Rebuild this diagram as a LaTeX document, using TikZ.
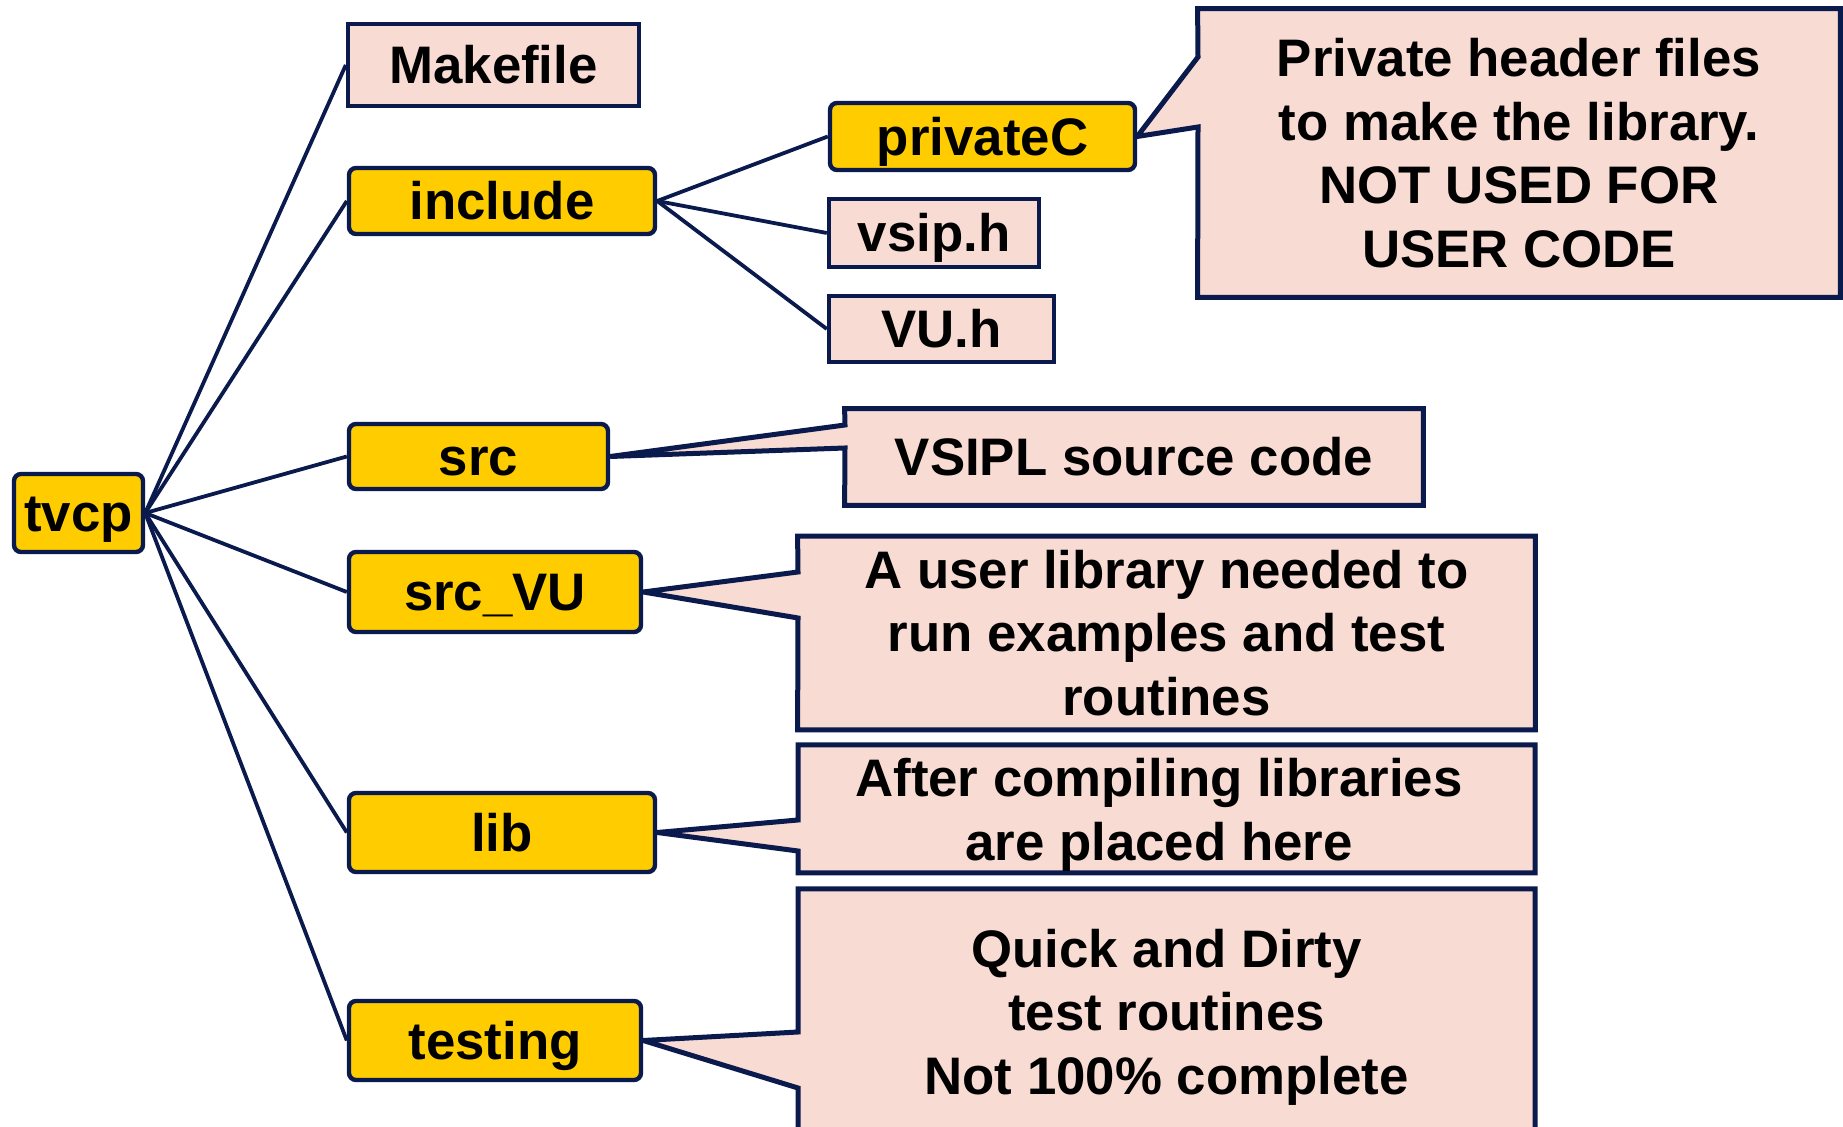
\documentclass[tikz,border=0pt]{standalone}
\usepackage{fontspec}
\setmainfont{Liberation Sans}
\usetikzlibrary{backgrounds}
\definecolor{navy}{RGB}{10,26,77}
\definecolor{gold}{RGB}{255,204,0}
\definecolor{pinkfill}{RGB}{248,219,210}
\begin{document}
\begin{tikzpicture}[x=0.5pt,y=-0.5pt,
  every node/.style={font=\fontsize{26.4pt}{31.75pt}\selectfont\bfseries, inner sep=0pt},
  boxlabel/.style={text height=18.8pt, text depth=0pt},
  dirbox/.style={boxlabel, draw=navy, line width=2.2pt, fill=gold, rounded corners=3.5pt},
  filebox/.style={boxlabel, draw=navy, line width=2.2pt, fill=pinkfill},
  notebox/.style={align=center},
  link/.style={draw=navy, line width=1.9pt},
  noteline/.style={draw=navy, line width=2.5pt, fill=pinkfill, line join=miter}]
\useasboundingbox (0,0) rectangle (1843,1127);

% tree nodes
\node[dirbox, minimum width=64.5pt, minimum height=39pt] (tvcp) at (78.5,513) {tvcp};
\node[filebox, minimum width=145.5pt, minimum height=41pt] (make) at (493.5,65) {Makefile};
\node[dirbox, minimum width=153pt, minimum height=33pt] (inc) at (502,201) {include};
\node[dirbox, minimum width=152.5pt, minimum height=33.5pt] (priv) at (982.5,136.5) {privateC};
\node[filebox, minimum width=105pt, minimum height=34pt] (vsip) at (934,233) {vsip.h};
\node[filebox, minimum width=112.5pt, minimum height=33pt] (vu) at (941.5,329) {VU.h};
\node[dirbox, minimum width=129.5pt, minimum height=32.5pt] (src) at (478.5,456.5) {src};
\node[dirbox, minimum width=146pt, minimum height=40pt] (srcvu) at (495,592) {src\_VU};
\node[dirbox, minimum width=153pt, minimum height=39.5pt] (lib) at (502,832.5) {lib};
\node[dirbox, minimum width=146pt, minimum height=39.5pt] (test) at (495,1040.5) {testing};

% callout texts
\node[notebox, minimum width=321pt, minimum height=144pt] (cPriv) at (1519,153)
  {Private header files\\to make the library.\\NOT USED FOR\\USER CODE};
\node[notebox, minimum width=289pt, minimum height=48pt] (cSrc) at (1134,457)
  {VSIPL source code};
\node[notebox, minimum width=368.5pt, minimum height=96.5pt] (cVU) at (1166.5,633)
  {A user library needed to\\run examples and test\\routines};
\node[notebox] (cLib) at (1159,815)
  {After compiling libraries\\are placed here};
\node[notebox] (cTest) at (1166.5,1017)
  {Quick and Dirty\\test routines\\Not 100\% complete};

% base points of the callout pointers and corners of open callouts
\coordinate (pU) at (1198,57);   \coordinate (pL) at (1198,127);
\coordinate (sU) at (845,425);   \coordinate (sL) at (845,448);
\coordinate (vU) at (798,572);   \coordinate (vL) at (798,618);
\coordinate (lU) at (798,820);   \coordinate (lL) at (798,851);
\coordinate (lTL) at (798,745);  \coordinate (lTR) at (1535,745);
\coordinate (lBL) at (798,873);  \coordinate (lBR) at (1535,873);
\coordinate (tU) at (798,1032);  \coordinate (tL) at (798,1088);
\coordinate (tTL) at (798,889);  \coordinate (tTR) at (1535,889);
\coordinate (tBL) at (798,1127); \coordinate (tBR) at (1535,1127);

\begin{scope}[on background layer]
\path[noteline] (cPriv.north west) -- (cPriv.north east) -- (cPriv.south east)
  -- (cPriv.south west) -- (pL) -- (priv.east) -- (pU) -- cycle;
\path[noteline] (cSrc.north west) -- (cSrc.north east) -- (cSrc.south east)
  -- (cSrc.south west) -- (sL) -- (src.east) -- (sU) -- cycle;
\path[noteline] (cVU.north west) -- (cVU.north east) -- (cVU.south east)
  -- (cVU.south west) -- (vL) -- (srcvu.east) -- (vU) -- cycle;
\path[noteline] (lTL) -- (lTR) -- (lBR) -- (lBL) -- (lL) -- (lib.east) -- (lU) -- cycle;
\path[fill=pinkfill] (tTL) -- (tTR) -- (tBR) -- (tBL) -- (tL) -- (test.east) -- (tU) -- cycle;
\path[draw=navy, line width=2.5pt, line join=miter] (tBR) -- (tTR) -- (tTL) -- (tU) -- (test.east) -- (tL) -- (tBL);
\end{scope}

% connectors
\draw[link] (tvcp.east) -- (make.west);
\draw[link] (tvcp.east) -- (inc.west);
\draw[link] (tvcp.east) -- (src.west);
\draw[link] (tvcp.east) -- (srcvu.west);
\draw[link] (tvcp.east) -- (lib.west);
\draw[link] (tvcp.east) -- (test.west);
\draw[link] (inc.east) -- (priv.west);
\draw[link] (inc.east) -- (vsip.west);
\draw[link] (inc.east) -- (vu.west);
\end{tikzpicture}
\end{document}
